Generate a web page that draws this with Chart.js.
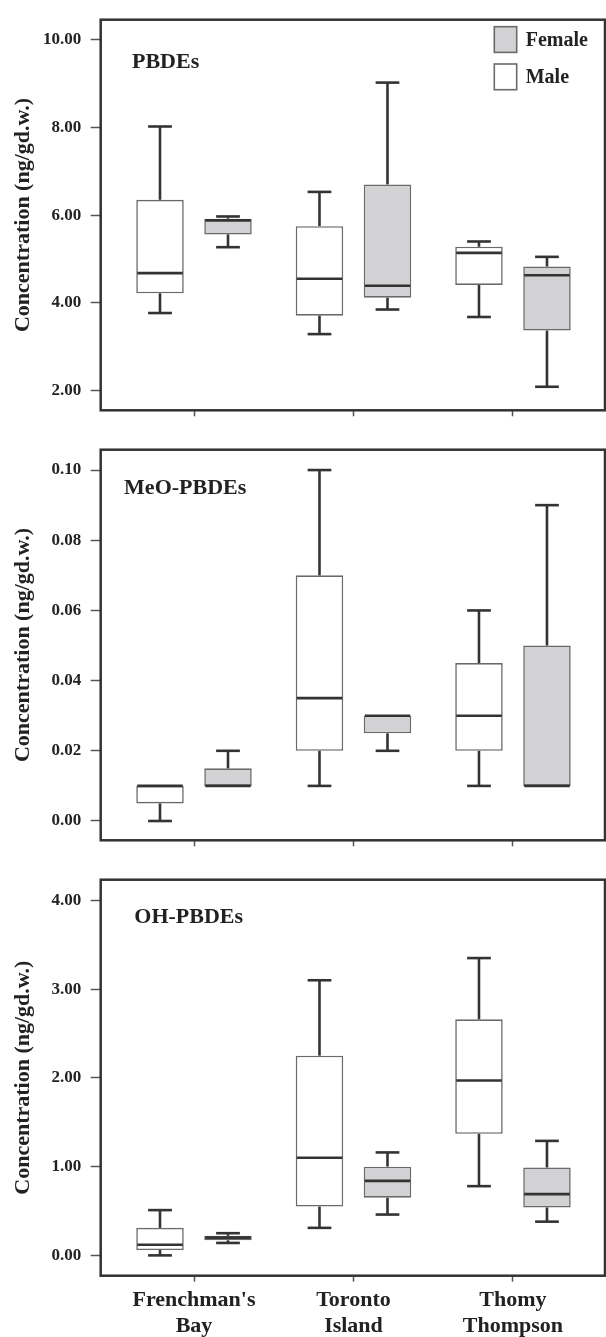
<!DOCTYPE html>
<html><head><meta charset="utf-8">
<script src="https://cdn.jsdelivr.net/npm/chart.js@4.4.1/dist/chart.umd.min.js"></script>
<style>
html,body{margin:0;padding:0;background:#fff;}
body{width:606px;height:1337px;position:relative;overflow:hidden;}
.panel{position:absolute;left:0;width:606px;}
</style></head><body>
<div class="panel" style="top:0;height:430px"><canvas id="c1"></canvas></div>
<div class="panel" style="top:430px;height:430px"><canvas id="c2"></canvas></div>
<div class="panel" style="top:860px;height:477px"><canvas id="c3"></canvas></div>
<script>
// ---- data ----
const sites = [["Frenchman's","Bay"],["Toronto","Island"],["Thomy","Thompson"]];
const seriesNames = ["Male","Female"];
const panelNames = ["PBDEs","MeO-PBDEs","OH-PBDEs"];
const yTitle = "Concentration (ng/gd.w.)";
// each entry: [min, Q1, median, Q3, max] per site
const pbdesMale   = [[3.77,4.22,4.68,6.35,8.02],[3.29,3.71,4.55,5.75,6.53],[3.68,4.41,5.14,5.28,5.40]];
const pbdesFemale = [[5.27,5.56,5.88,5.92,5.97],[3.85,4.12,4.39,6.70,9.02],[2.09,3.37,4.63,4.83,5.05]];
const meoMale     = [[0.000,0.005,0.010,0.010,0.010],[0.010,0.020,0.035,0.070,0.100],[0.010,0.020,0.030,0.045,0.060]];
const meoFemale   = [[0.010,0.010,0.010,0.015,0.020],[0.020,0.025,0.030,0.030,0.030],[0.010,0.010,0.010,0.050,0.090]];
const ohMale      = [[0.00,0.06,0.12,0.31,0.51],[0.31,0.55,1.10,2.25,3.10],[0.78,1.37,1.97,2.66,3.35]];
const ohFemale    = [[0.14,0.17,0.20,0.22,0.25],[0.46,0.65,0.84,1.00,1.16],[0.38,0.54,0.69,0.99,1.29]];
const pbdesTicks = [2,4,6,8,10];
const meoTicks   = [0,0.02,0.04,0.06,0.08,0.10];
const ohTicks    = [0,1,2,3,4];

// ---- styling ----
const FONT = '"Liberation Serif","Times New Roman",Times,serif';
const TEXT = '#222';
const DARK = '#333';
const MALE_FILL = '#ffffff';
const FEMALE_FILL = '#d2d2d4';
Chart.defaults.font.family = FONT;
Chart.defaults.font.weight = 'bold';
Chart.defaults.color = TEXT;

const boxPlugin = {
  id: 'boxWhisker',
  afterDatasetsDraw(chart) {
    const ctx = chart.ctx, ys = chart.scales.y;
    const Y = v => ys.getPixelForValue(v);
    const line = (x1,y1,x2,y2) => { ctx.beginPath(); ctx.moveTo(x1,y1); ctx.lineTo(x2,y2); ctx.stroke(); };
    chart.data.datasets.forEach((ds, di) => {
      const meta = chart.getDatasetMeta(di);
      meta.data.forEach((bar, i) => {
        const [mn, q1, med, q3, mx] = ds.stats[i];
        const half = bar.width / 2, cap = bar.width / 4;
        ctx.save();
        ctx.strokeStyle = DARK; ctx.lineWidth = 2.6; ctx.lineCap = 'butt';
        if (mx > q3) { line(bar.x, Y(q3), bar.x, Y(mx)); line(bar.x - cap, Y(mx), bar.x + cap, Y(mx)); }
        if (mn < q1) { line(bar.x, Y(q1), bar.x, Y(mn)); line(bar.x - cap, Y(mn), bar.x + cap, Y(mn)); }
        line(bar.x - half + 1, Y(med), bar.x + half - 1, Y(med));
        ctx.restore();
      });
    });
  }
};

const framePlugin = {
  id: 'frame',
  afterDraw(chart, args, opts) {
    const {left, top, right, bottom} = chart.chartArea;
    const ctx = chart.ctx;
    ctx.save();
    ctx.strokeStyle = DARK; ctx.lineWidth = 2.5;
    ctx.strokeRect(left, top, right - left, bottom - top);
    ctx.fillStyle = TEXT;
    ctx.font = 'bold 22px ' + FONT;
    ctx.textBaseline = 'alphabetic';
    ctx.textAlign = 'left';
    ctx.fillText(opts.name, left + opts.dx, top + opts.dy);
    ctx.restore();
  }
};

const insideLegend = {
  id: 'insideLegend',
  afterDraw(chart, args, opts) {
    if (!opts.show) return;
    const ctx = chart.ctx, ca = chart.chartArea;
    const items = chart.data.datasets.slice().reverse();
    const bw = 22.4, bh = 25.7, gap = 37.3;
    const bx = ca.right - 88.3 - bw;
    ctx.save();
    items.forEach((ds, k) => {
      const by = ca.top + 7 + k * gap;
      ctx.fillStyle = ds.backgroundColor;
      ctx.fillRect(bx, by, bw, bh);
      ctx.strokeStyle = '#6a6a6a'; ctx.lineWidth = 1.6;
      ctx.strokeRect(bx, by, bw, bh);
      ctx.fillStyle = TEXT;
      ctx.font = 'bold 20px ' + FONT;
      ctx.textBaseline = 'middle'; ctx.textAlign = 'left';
      ctx.fillText(ds.label, bx + bw + 9, by + bh / 2 + 1);
    });
    ctx.restore();
  }
};

function makeDataset(label, stats, fill) {
  return {
    label,
    stats,
    data: stats.map((s, i) => ({x: i, y: [s[1], s[3]]})),
    backgroundColor: fill,
    borderColor: '#6a6a6a',
    borderWidth: 1.6,
    borderSkipped: false,
    categoryPercentage: 0.8527,
    barPercentage: 0.6985
  };
}

function makeChart(id, p) {
  return new Chart(document.getElementById(id), {
    type: 'bar',
    data: {
      datasets: [
        makeDataset(seriesNames[0], p.male, MALE_FILL),
        makeDataset(seriesNames[1], p.female, FEMALE_FILL)
      ]
    },
    options: {
      responsive: true,
      maintainAspectRatio: false,
      animation: false,
      events: [],
      layout: { padding: { top: p.padTop, right: 1, left: 0, bottom: 0 } },
      plugins: {
        legend: { display: false },
        tooltip: { enabled: false },
        frame: { name: p.name, dx: p.dx, dy: p.dy },
        insideLegend: { show: !!p.legend }
      },
      scales: {
        x: {
          type: 'linear',
          offset: false,
          min: -0.585, max: 2.577,
          afterBuildTicks: s => { s.ticks = sites.map((_, i) => ({value: i})); },
          afterFit: s => { s.height = p.xh; },
          ticks: {
            display: !!p.xLabels,
            callback: (v, i) => sites[i],
            font: { size: 22, weight: 'bold', lineHeight: 1.2 },
            color: TEXT, padding: 5.4, maxRotation: 0, autoSkip: false
          },
          grid: { offset: false, drawOnChartArea: false, drawTicks: true, tickLength: 6, tickColor: '#555', tickWidth: 1.5 },
          border: { display: false }
        },
        y: {
          min: p.min, max: p.max,
          afterBuildTicks: s => { s.ticks = p.ticks.map(v => ({value: v})); },
          afterFit: s => { s.width = 100.7; },
          ticks: { callback: v => Number(v).toFixed(2), font: { size: 17, weight: 'bold' }, color: TEXT, padding: 9.5 },
          grid: { drawOnChartArea: false, drawTicks: true, tickLength: 10, tickColor: '#555', tickWidth: 1.5 },
          border: { display: false },
          title: { display: true, text: yTitle, font: { size: 22, weight: 'bold' }, color: TEXT, padding: { top: 10, bottom: 0 } }
        }
      }
    },
    plugins: [boxPlugin, framePlugin, insideLegend]
  });
}

makeChart('c1', { male: pbdesMale, female: pbdesFemale, ticks: pbdesTicks, min: 1.554, max: 10.453,
  padTop: 14, xh: 13.3, name: panelNames[0], dx: 31.3, dy: 48.3, legend: true });
makeChart('c2', { male: meoMale, female: meoFemale, ticks: meoTicks, min: -0.0055, max: 0.1058,
  padTop: 13, xh: 13, name: panelNames[1], dx: 23.4, dy: 44.3 });
makeChart('c3', { male: ohMale, female: ohFemale, ticks: ohTicks, min: -0.229, max: 4.233,
  padTop: 13, xh: 61.3, name: panelNames[2], dx: 33.6, dy: 43.7, xLabels: true });
</script>
</body></html>
